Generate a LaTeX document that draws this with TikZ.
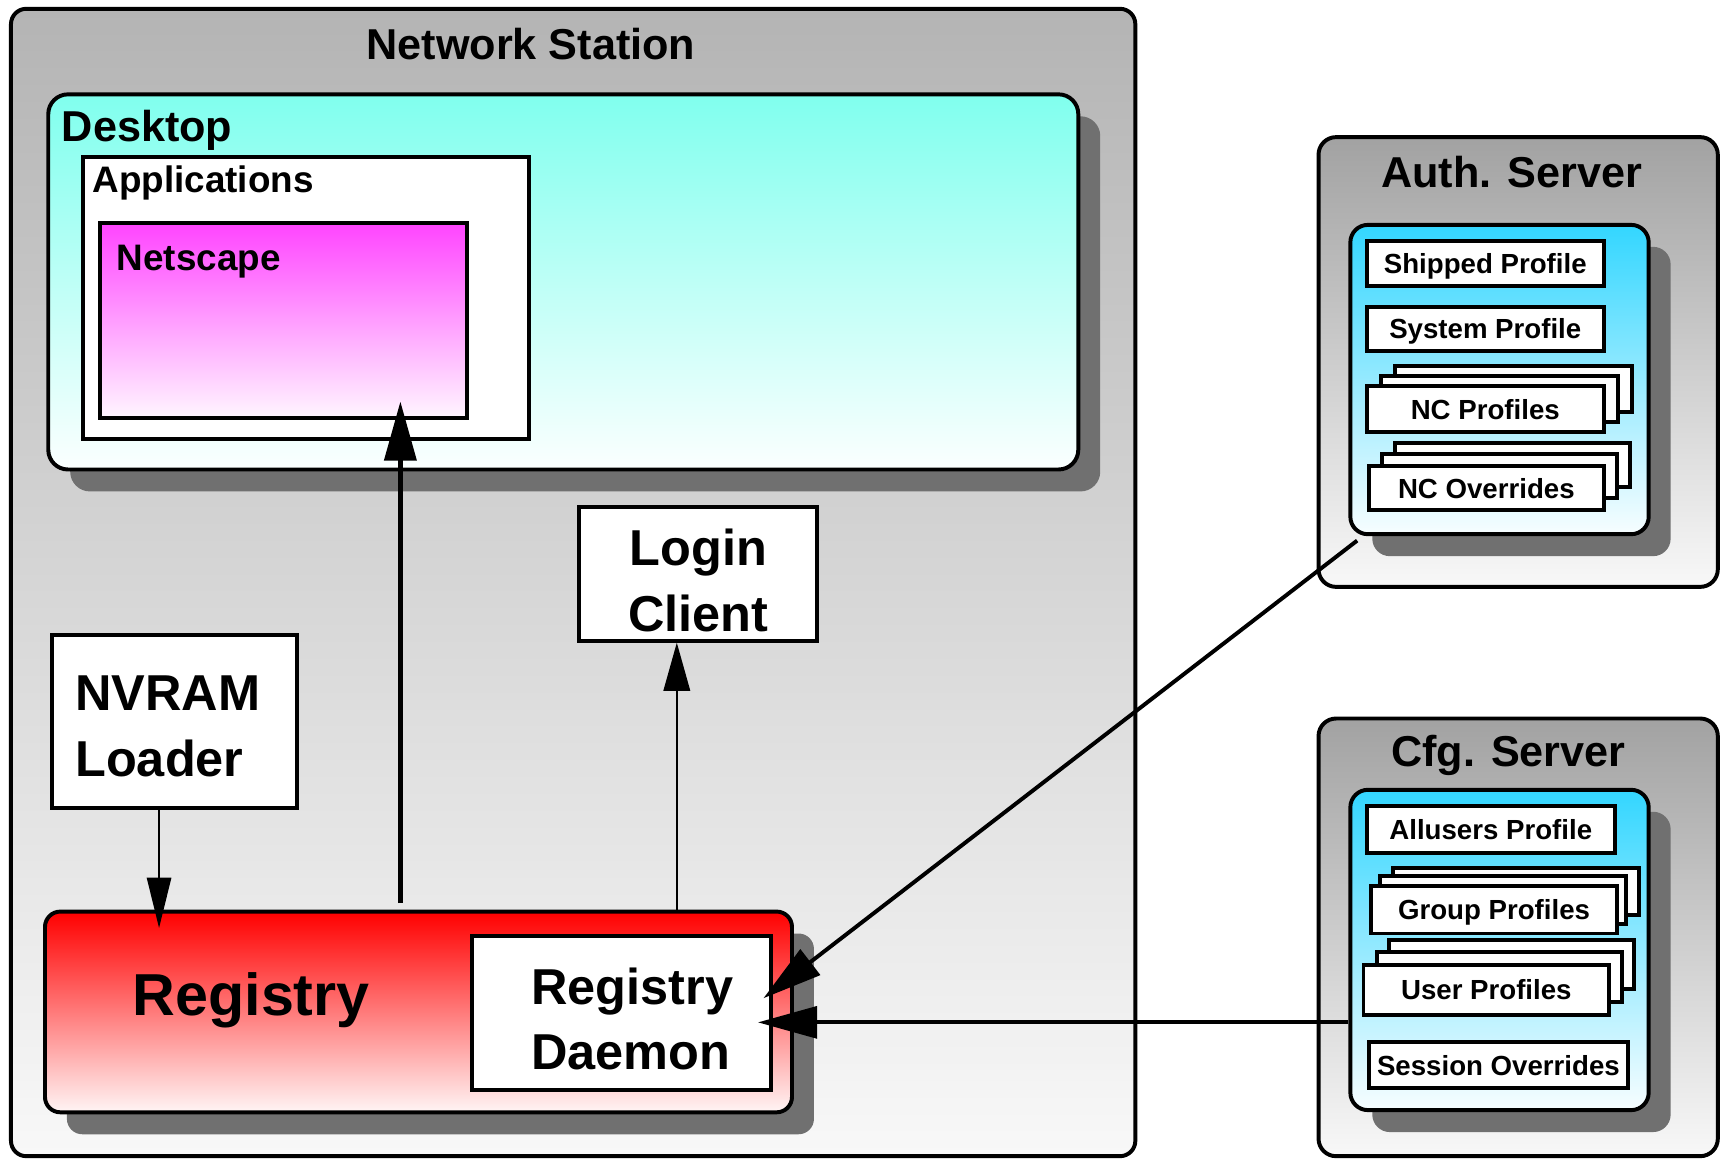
\documentclass[tikz,border=0pt]{standalone}
\usepackage{fontspec}
\setmainfont{Liberation Sans}
\usetikzlibrary{arrows.meta,positioning,shadows}

\definecolor{shadowgray}{HTML}{707070}
\definecolor{stationgray}{HTML}{B4B4B4}
\definecolor{servergray}{HTML}{A2A2A2}
\definecolor{palegray}{HTML}{F8F8F8}
\definecolor{desktopcyan}{HTML}{80FFEE}
\definecolor{netscapepink}{HTML}{FF44FF}
\definecolor{profilecyan}{HTML}{33D6FF}

\begin{document}
\begin{tikzpicture}[x=0.5pt,y=-0.5pt,font=\bfseries,
    box/.style={draw,line width=1.8pt,inner sep=0pt},
    panel/.style={box,rounded corners=7pt},
    shadowed/.style={drop shadow={shadow xshift=10pt,shadow yshift=-10pt,fill=shadowgray,opacity=1}},
    sheet/.style={box,fill=white,text height=9pt,text depth=0pt,font=\fontsize{12.6}{15}\selectfont\bfseries},
    heading/.style={text height=14pt,text depth=0pt,font=\fontsize{19.7}{24}\selectfont\bfseries},
    caption/.style={font=\fontsize{16.8}{20}\selectfont\bfseries,anchor=west,inner sep=0pt},
    bigbox/.style={box,fill=white,font=\fontsize{23}{30}\selectfont\bfseries},
    lightlink/.style={line width=1.2pt,-{Triangle[length=23pt,width=11pt]}},
    heavylink/.style={line width=2.1pt,-{Triangle[length=27pt,width=14.5pt]}},
    sidelink/.style={line width=1.8pt,-{Triangle[length=27pt,width=14.5pt]}}]

    \useasboundingbox (0,0) rectangle (1568,1056);

    % network station
    \node[panel,top color=stationgray,bottom color=palegray,minimum width=512.5pt,minimum height=523pt] (station) at (522.5,531) {};
    \node[heading] (stationtitle) at (484,40) {Network Station};

    \node[panel,rounded corners=9pt,shadowed,top color=desktopcyan,bottom color=white!97!desktopcyan,minimum width=469.5pt,minimum height=171pt] (desktop) at (513.5,257) {};
    \node[caption,font=\fontsize{19.7}{24}\selectfont\bfseries] (desktoplabel) at (56,118.5) {Desktop};
    \node[box,fill=white,minimum width=203pt,minimum height=128.5pt] (apps) at (279,271.5) {};
    \node[caption] (appslabel) at (84,167) {Applications};
    \node[box,top color=netscapepink,bottom color=white!95!netscapepink,minimum width=167.5pt,minimum height=89pt] (netscape) at (258.5,292) {};
    \node[caption] (netscapelabel) at (106,238.5) {Netscape};

    \node[bigbox,align=center,minimum width=108.5pt,minimum height=61pt] (login) at (636.5,523) {\rule{0pt}{22.5pt}Login\\Client};
    \node[bigbox,align=left,minimum width=112pt,minimum height=79pt] (nvram) at (159,658) {\rule{0pt}{20pt}NVRAM\hspace*{6pt}\\Loader};

    \node[panel,shadowed,top color=red,bottom color=white!96!red,minimum width=340.5pt,minimum height=91.5pt] (registry) at (381.5,922.5) {};
    \node[font=\fontsize{27}{32}\selectfont\bfseries] (registrylabel) at (229,912) {Registry};
    \node[bigbox,align=left,minimum width=136.5pt,minimum height=70.5pt] (daemon) at (566.5,923.5) {\rule{0pt}{22pt}\hspace*{10pt}Registry\\\hspace*{10pt}Daemon};

    % auth. server
    \node[panel,rounded corners=8pt,top color=servergray,bottom color=palegray,minimum width=182pt,minimum height=205pt] (auth) at (1384,330) {};
    \node[heading] (authtitle) at (1378,157) {Auth. Server};
    \node[panel,rounded corners=8pt,shadowed,top color=profilecyan,bottom color=white!96!profilecyan,minimum width=136pt,minimum height=141pt] (authin) at (1367,346) {};
    \node[sheet,minimum width=108pt,minimum height=20.5pt] (shipped) at (1354,240.5) {Shipped Profile};
    \node[sheet,minimum width=108pt,minimum height=20pt] (system) at (1354,300) {System Profile};
    \node[sheet,minimum width=108pt,minimum height=21pt] (ncprof3) at (1380,355) {};
    \node[sheet,minimum width=108pt,minimum height=21pt] (ncprof2) at (1367,364) {};
    \node[sheet,minimum width=108pt,minimum height=21pt] (ncprof) at (1354,373) {NC Profiles};
    \node[sheet,minimum width=107pt,minimum height=20pt] (ncover3) at (1379,424) {};
    \node[sheet,minimum width=107pt,minimum height=20pt] (ncover2) at (1367,434) {};
    \node[sheet,minimum width=107pt,minimum height=20pt] (ncover) at (1355,445) {NC Overrides};

    % cfg. server
    \node[panel,rounded corners=8pt,top color=servergray,bottom color=palegray,minimum width=182pt,minimum height=199.5pt] (cfg) at (1384,854.5) {};
    \node[heading] (cfgtitle) at (1375,685) {Cfg. Server};
    \node[panel,rounded corners=8pt,shadowed,top color=profilecyan,bottom color=white!96!profilecyan,minimum width=136pt,minimum height=146pt] (cfgin) at (1367,866) {};
    \node[sheet,minimum width=113pt,minimum height=21.5pt] (allusers) at (1359,756.5) {Allusers Profile};
    \node[sheet,minimum width=112pt,minimum height=21.5pt] (group3) at (1382,812.5) {};
    \node[sheet,minimum width=112pt,minimum height=21.5pt] (group2) at (1370,820.5) {};
    \node[sheet,minimum width=112pt,minimum height=21.5pt] (group) at (1362,829.5) {Group Profiles};
    \node[sheet,minimum width=112pt,minimum height=22.5pt] (user3) at (1378,879.5) {};
    \node[sheet,minimum width=112pt,minimum height=22.5pt] (user2) at (1367,890.5) {};
    \node[sheet,minimum width=112pt,minimum height=22.5pt] (user) at (1355,902.5) {User Profiles};
    \node[sheet,minimum width=118pt,minimum height=21pt] (session) at (1366,971) {Session Overrides};

    \coordinate (nvtip) at (145,846);
    \coordinate (nstip) at (365,366);
    \coordinate (loginx) at (617,584);
    \coordinate (authtip) at (696,910);
    \coordinate (cfgtip) at (691,932);

    \path
      (nvram.south -| nvtip) edge[lightlink] (nvtip)
      (registry.north -| nstip) edge[heavylink,shorten <=3pt] (nstip)
      (registry.north -| loginx) edge[lightlink,-{Triangle[length=22pt,width=12pt]}] (login.south -| loginx)
      ([shift={(4pt,-2pt)}]authin.south west) edge[sidelink] (authtip)
      (cfgin.west |- cfgtip) edge[sidelink] (cfgtip)
      ;
\end{tikzpicture}
\end{document}
